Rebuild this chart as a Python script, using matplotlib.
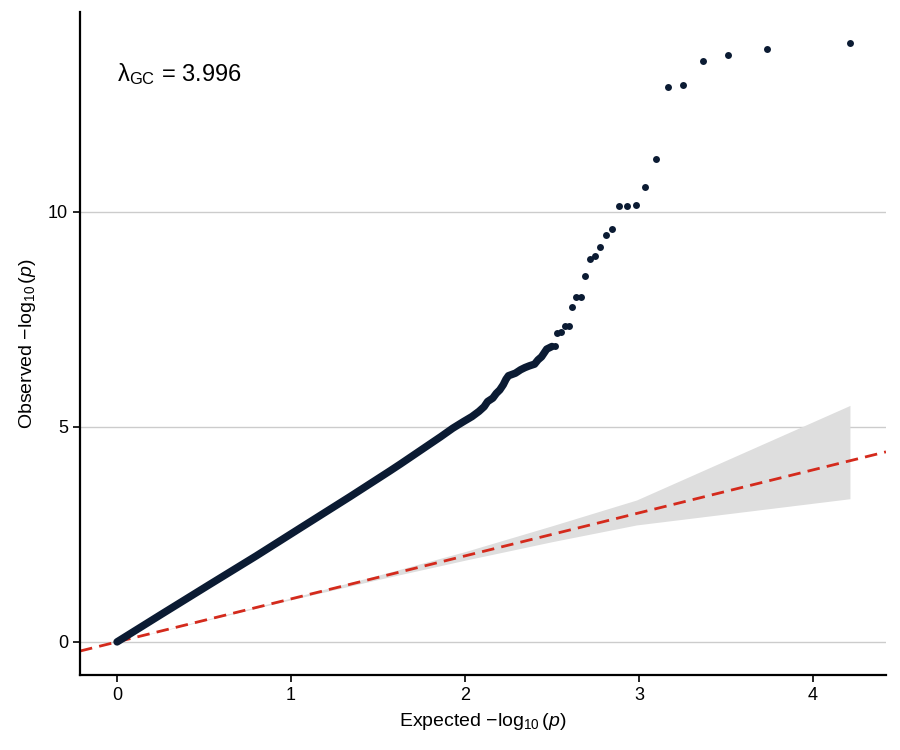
import numpy as np
import matplotlib.pyplot as plt

plt.rcParams['font.family'] = ['Liberation Sans', 'DejaVu Sans']
plt.rcParams['mathtext.fontset'] = 'custom'
plt.rcParams['mathtext.rm'] = 'Liberation Sans'
plt.rcParams['mathtext.it'] = 'Liberation Sans:italic'

# dense part of the QQ curve
dense_x = [0.0, 0.25, 0.53, 0.8, 1.05, 1.34, 1.57, 1.63, 1.86, 1.93, 1.99, 2.04, 2.08, 2.11,
           2.13, 2.16, 2.18, 2.2, 2.22, 2.236, 2.25, 2.29, 2.32, 2.345, 2.37, 2.40, 2.42,
           2.44, 2.47, 2.50]
dense_y = [0.0, 0.63, 1.33, 2.0, 2.64, 3.38, 3.98, 4.14, 4.77, 4.97, 5.12, 5.24, 5.36, 5.47,
           5.59, 5.67, 5.78, 5.86, 5.98, 6.11, 6.19, 6.25, 6.33, 6.38, 6.42, 6.46, 6.56,
           6.63, 6.81, 6.87]

# sparse top hits
top_x = [2.517, 2.531, 2.552, 2.575, 2.596, 2.617, 2.640, 2.665, 2.690, 2.718, 2.747, 2.778,
         2.812, 2.847, 2.887, 2.931, 2.981, 3.034, 3.096, 3.169, 3.255, 3.366, 3.513, 3.734,
         4.213]
top_y = [6.89, 7.18, 7.21, 7.34, 7.35, 7.79, 8.01, 8.02, 8.52, 8.90, 8.98, 9.19,
         9.47, 9.60, 10.14, 10.14, 10.15, 10.57, 11.22, 12.91, 12.95, 13.50, 13.66, 13.78,
         13.94]

# 95% band around y = x
band_x = [0.0, 1.0, 1.5, 2.0, 2.5, 2.986, 4.213]
band_hi = [0.0, 1.02, 1.55, 2.10, 2.70, 3.30, 5.50]
band_lo = [0.0, 0.98, 1.45, 1.90, 2.33, 2.72, 3.33]

lambda_gc = 3.996

point_col = "#0b1b33"

fig = plt.figure(figsize=(9, 7.5), dpi=100)
ax = fig.add_axes([0.0889, 0.1, 0.8955, 0.884])

ax.fill_between(band_x, band_lo, band_hi, color="#dedede", lw=0, zorder=1)
ax.axline((0, 0), slope=1, color="#d42a1c", lw=2.0, dashes=(4.5, 2.6), zorder=2)

ax.plot(dense_x, dense_y, color=point_col, lw=5.4, solid_capstyle="round",
        solid_joinstyle="round", zorder=3)
ax.scatter(top_x, top_y, s=25, color=point_col, lw=0, zorder=3)

ax.text(0.0, 13.2, r"λ$_{\mathrm{GC}}$ = %.3f" % lambda_gc, fontsize=17,
        va="center", ha="left")

ax.set_xlim(-0.213, 4.42)
ax.set_ylim(-0.77, 14.65)
ax.set_xticks([0, 1, 2, 3, 4])
ax.set_yticks([0, 5, 10])
ax.yaxis.grid(True, color="#cccccc", lw=1)
ax.set_axisbelow(True)

for side in ["top", "right"]:
    ax.spines[side].set_visible(False)
for side in ["left", "bottom"]:
    ax.spines[side].set_linewidth(1.6)
ax.tick_params(labelsize=13, width=1.2, length=5, colors="black")

ax.set_xlabel(r"Expected $-\log_{10}(p)$", fontsize=14, labelpad=5)
ax.set_ylabel(r"Observed $-\log_{10}(p)$", fontsize=14, labelpad=7)

plt.savefig("out.png", dpi=100)
